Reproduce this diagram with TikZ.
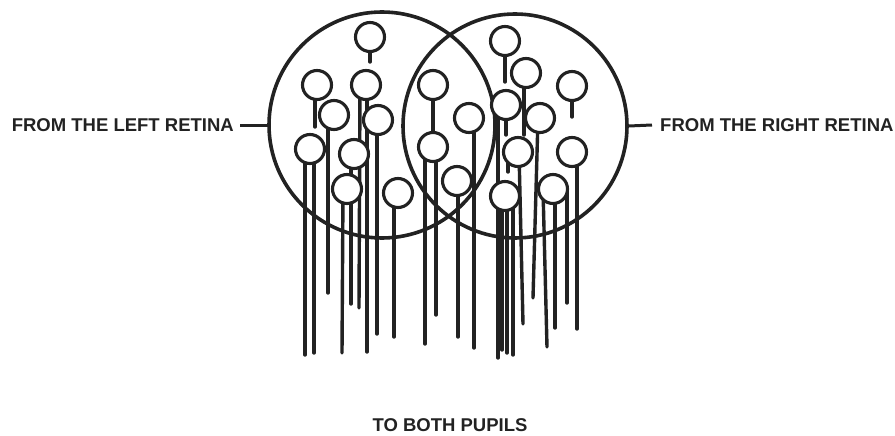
\documentclass[tikz,border=0pt]{standalone}
\usepackage{fontspec}
\setmainfont{Liberation Sans}
\pgfdeclarelayer{bg}
\pgfsetlayers{bg,main}
\definecolor{ink}{RGB}{34,34,34}
\tikzset{
  stalk/.style={draw=ink, line width=3.4pt, line cap=round},
  cell/.style={circle, draw=ink, line width=3.1pt, fill=white, minimum size=29pt, inner sep=0pt},
  bigring/.style={circle, draw=ink, line width=3.6pt, inner sep=0pt},
  lbl/.style={font=\fontsize{18.5}{20}\selectfont\bfseries, text=ink, inner ysep=0pt},
  tick/.style={draw=ink, line width=3pt}
}
\begin{document}
\begin{tikzpicture}[x=1pt,y=-1pt]
\useasboundingbox (0,0) rectangle (895,436);
% big rings
\node[bigring, minimum size=226pt] (bigL) at (382,125) {};
\node[bigring, minimum size=224pt] (bigR) at (515,126) {};
% small cells
\foreach \n/\x/\y in {
  c1/370/37, c2/317/85, c3/366/85, c4/334/115, c5/378/120, c6/310/149,
  c7/354/154, c8/347/189, c9/398/193, c10/433/85, c11/433/147, c12/469/118,
  c13/457/181, c14/505/41, c15/526/73, c16/506/105, c17/540/118, c18/518/152,
  c19/572/86, c20/572/152, c21/505/196, c22/553/189}
  \node[cell] (\n) at (\x,\y) {};
% stalks
\foreach \n/\dx/\ex/\ey [count=\i] in {
  c1/0/370/62, c2/-2/315/127, c3/-6/359/308, c3/1/367/352, c4/-6/328/293,
  c5/-1/377/334, c6/-5/305/355, c6/4/314/353, c7/-3/351/304, c8/-4/342/353,
  c9/-4/394/337, c11/-8/425/344, c11/3/436/315, c12/5/474/348, c13/1/458/337,
  c14/0/505/82, c15/-2/524/135, c16/-8/498/358, c16/0/506/135, c17/-2/533/298,
  c18/1/523/324, c18/-10/508/172, c19/0/572/117, c20/5/577/329, c21/-3/502/350,
  c21/2/507/353, c21/8/513/355, c22/-10/547/347, c22/2/555/328, c22/14/567/303}
{
  \coordinate (s\i) at (\ex,\ey);
  \begin{pgfonlayer}{bg}
    \draw[stalk] ([xshift=\dx pt]\n.center) -- (s\i);
  \end{pgfonlayer}
}
\begin{pgfonlayer}{bg}
  \draw[stalk] (c10.center) -- (c11.center);
\end{pgfonlayer}
% labels
\node[lbl, anchor=east, inner xsep=6pt] (lblL) at (240,125) {FROM THE LEFT RETINA};
\node[lbl, anchor=west, inner xsep=8pt] (lblR) at (652,125) {FROM THE RIGHT RETINA};
\node[lbl] (lblB) at (450,425) {TO BOTH PUPILS};
\draw[tick] (lblL.east) -- (bigL.west);
\draw[tick] (bigR.east) -- (lblR.west);
\end{tikzpicture}
\end{document}
